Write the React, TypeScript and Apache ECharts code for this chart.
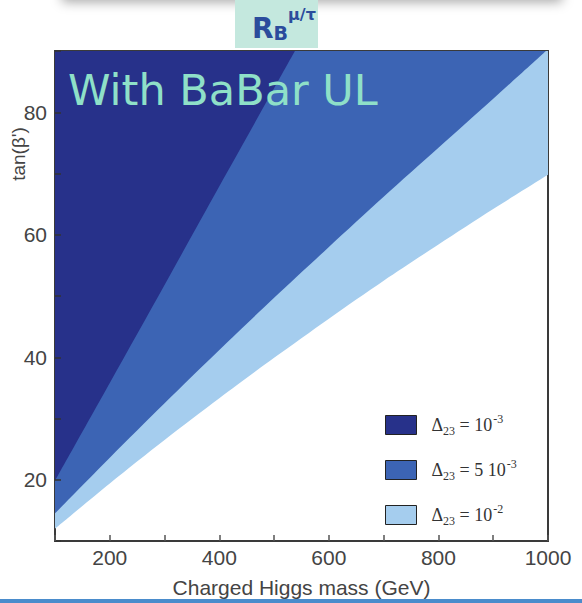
import React, { useEffect, useRef } from "react";
import * as echarts from "echarts";

// Boundaries of the excluded regions in the (m_H+, tan beta') plane
const darkMass = [100, 200, 300, 400, 500, 538];
const darkTan = [19.8, 35.8, 51.8, 67.9, 83.9, 90];

const midMass = [100, 200, 300, 400, 500, 600, 700, 800, 900, 1000];
const midTan = [14.5, 23.6, 32.5, 41.2, 49.7, 58.0, 66.2, 74.2, 82.2, 90.3];

const lightMass = [100, 200, 300, 400, 500, 600, 700, 800, 900, 1000];
const lightTan = [12.0, 19.4, 26.5, 33.3, 39.9, 46.3, 52.5, 58.4, 64.2, 69.8];

const seriesNames = ["d1e-3", "d5e-3", "d1e-2"];
const legendLabels: Record<string, string> = {
  "d1e-3": "{d|Δ}{s|23}{t| = 10}{p|-3}",
  "d5e-3": "{d|Δ}{s|23}{t| = 5 10}{p|-3}",
  "d1e-2": "{d|Δ}{s|23}{t| = 10}{p|-2}",
};
const colors = ["#27318a", "#3c64b4", "#a5cdee"];

const pairs = (xs: number[], ys: number[]) => xs.map((x, i) => [x, ys[i]]);

export default function App() {
  const ref = useRef<HTMLDivElement>(null);

  useEffect(() => {
    if (!ref.current) return;
    const chart = echarts.init(ref.current, null, { renderer: "svg" });

    const area = (name: string, data: number[][], color: string, z: number) => ({
      name,
      type: "line",
      data,
      symbol: "none",
      smooth: 0.3,
      z,
      clip: true,
      itemStyle: { color },
      lineStyle: { width: 0, color },
      areaStyle: { origin: "end", color, opacity: 1 },
    });

    const serif = "Liberation Serif";

    chart.setOption({
      animation: false,
      backgroundColor: "#ffffff",
      grid: {
        left: 55,
        right: 34,
        top: 51,
        bottom: 61,
        show: true,
        backgroundColor: "#ffffff",
        borderColor: "#3a3a3a",
        borderWidth: 2,
        z: 0,
      },
      xAxis: {
        type: "value",
        min: 100,
        max: 1000,
        interval: 100,
        axisLine: { show: false },
        axisTick: { show: true, inside: true, length: 6, lineStyle: { color: "#555", width: 1.5 } },
        splitLine: { show: false },
        axisLabel: {
          color: "#444",
          fontFamily: "Liberation Sans",
          fontSize: 21,
          margin: 6,
          formatter: (v: number) => (v % 200 === 0 ? String(v) : ""),
        },
        name: "Charged Higgs mass (GeV)",
        nameLocation: "middle",
        nameGap: 36,
        nameTextStyle: { color: "#444", fontFamily: "Liberation Sans", fontSize: 21 },
        z: 5,
      },
      yAxis: {
        type: "value",
        min: 10,
        max: 90,
        interval: 10,
        axisLine: { show: false },
        axisTick: { show: true, inside: true, length: 6, lineStyle: { color: "#333", width: 1.5 } },
        splitLine: { show: false },
        axisLabel: {
          color: "#444",
          fontFamily: "Liberation Sans",
          fontSize: 21,
          margin: 8,
          formatter: (v: number) => (v % 20 === 0 ? String(v) : ""),
        },
        z: 5,
      },
      legend: {
        orient: "vertical",
        left: 380,
        top: 408,
        itemWidth: 31,
        itemHeight: 19,
        itemGap: 21,
        icon: "rect",
        data: seriesNames.map((n, i) => ({
          name: n,
          icon: "rect",
          itemStyle: { color: colors[i], borderColor: "#222", borderWidth: 1 },
        })),
        formatter: (n: string) => legendLabels[n],
        textStyle: {
          color: "#333",
          fontFamily: serif,
          padding: [0, 0, 0, 10],
          rich: {
            d: { fontSize: 18, fontFamily: serif, color: "#333", lineHeight: 24, verticalAlign: "middle" },
            s: { fontSize: 12, fontFamily: serif, color: "#333", verticalAlign: "bottom", padding: [7, 0, 0, 0] },
            t: { fontSize: 18, fontFamily: serif, color: "#333", verticalAlign: "middle" },
            p: { fontSize: 12, fontFamily: serif, color: "#333", verticalAlign: "top", padding: [0, 0, 9, 1] },
          },
        },
      },
      series: [
        area(seriesNames[2], pairs(lightMass, lightTan), colors[2], 1),
        area(seriesNames[1], pairs(midMass, midTan), colors[1], 2),
        area(seriesNames[0], pairs(darkMass, darkTan), colors[0], 3),
      ],
      graphic: [
        // soft shadow of the slide element above
        {
          type: "rect",
          shape: { x: 62, y: -30, width: 500, height: 30 },
          style: { fill: "#ffffff", shadowBlur: 12, shadowColor: "rgba(0,0,0,0.35)", shadowOffsetY: 2 },
          z: 1,
        },
        {
          type: "rect",
          shape: { x: 235, y: 0, width: 83, height: 48 },
          style: { fill: "#c4e8de" },
          z: 2,
        },
        {
          type: "text",
          x: 252,
          y: 6,
          style: {
            text: "{r|R}{b|B}{m|μ/τ}",
            rich: {
              r: { fontSize: 28, fontWeight: "bold", fontFamily: "DejaVu Sans", fill: "#2b4c9c", lineHeight: 36, verticalAlign: "bottom" },
              b: { fontSize: 19, fontWeight: "bold", fontFamily: "DejaVu Sans", fill: "#2b4c9c", verticalAlign: "bottom", padding: [6, 0, 0, 0] },
              m: { fontSize: 16, fontWeight: "bold", fontFamily: "DejaVu Sans", fill: "#2b4c9c", verticalAlign: "top", padding: [0, 0, 10, 0] },
            },
          },
          z: 3,
        },
        {
          type: "text",
          x: 68,
          y: 68,
          style: {
            text: "With BaBar UL",
            fontSize: 43,
            fontFamily: "DejaVu Sans",
            fill: "#8fe0c8",
          },
          z: 100,
        },
        {
          type: "text",
          x: 18,
          y: 154,
          rotation: Math.PI / 2,
          style: {
            text: "tan(β')",
            fontSize: 19,
            fontFamily: "Liberation Sans",
            fill: "#444",
            align: "center",
            verticalAlign: "middle",
          },
          z: 100,
        },
        {
          type: "rect",
          shape: { x: 0, y: 599, width: 582, height: 4 },
          style: { fill: "#4a8ccc" },
          z: 100,
        },
      ],
    });

    return () => chart.dispose();
  }, []);

  return <div ref={ref} style={{ width: 582, height: 603, position: "absolute", left: 0, top: 0 }} />;
}
